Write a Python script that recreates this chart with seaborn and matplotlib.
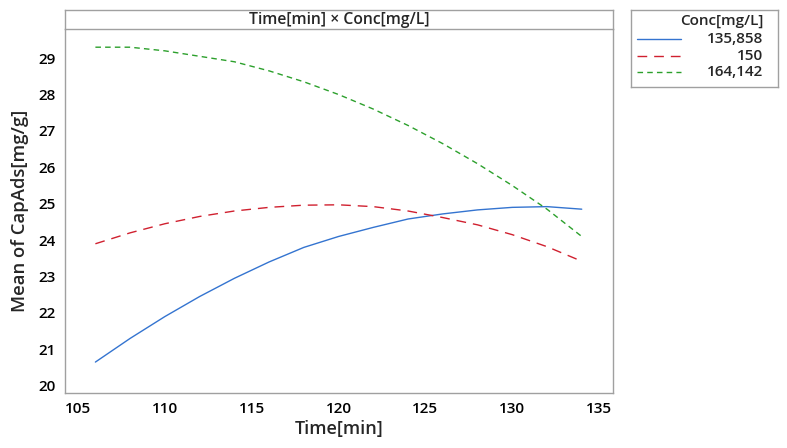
import numpy as np
import pandas as pd
import seaborn as sns
import matplotlib.pyplot as plt
from matplotlib.lines import Line2D

# values
Time = [106, 108, 110, 112, 114, 116, 118, 120, 122, 124, 126, 128, 130, 132, 134]
Conc = ['135,858', '150', '164,142']
CapAds135 = [20.65, 21.30, 21.90, 22.45, 22.95, 23.40, 23.80, 24.10, 24.35, 24.58, 24.72, 24.83, 24.90, 24.92, 24.85]
CapAds150 = [23.90, 24.20, 24.45, 24.65, 24.80, 24.90, 24.96, 24.97, 24.92, 24.80, 24.62, 24.42, 24.15, 23.82, 23.42]
CapAds164 = [29.30, 29.30, 29.20, 29.05, 28.90, 28.65, 28.35, 28.00, 27.60, 27.15, 26.65, 26.10, 25.50, 24.85, 24.10]
XTicks = [105, 110, 115, 120, 125, 130, 135]
YTicks = [20, 21, 22, 23, 24, 25, 26, 27, 28, 29]

rows = []
for c, vals in zip(Conc, [CapAds135, CapAds150, CapAds164]):
    for t, v in zip(Time, vals):
        rows.append({'Time': t, 'CapAds': v, 'Conc': c})
df = pd.DataFrame(rows)

colours = {'135,858': '#3474d0', '150': '#d0202f', '164,142': '#2ca02c'}
dashstyles = {'135,858': '', '150': (7, 5), '164,142': (4, 3)}

sns.set_style('white')
plt.rcParams['font.family'] = ['Open Sans', 'DejaVu Sans']
edge = '#a0a0a0'

fig = plt.figure(figsize=(7.87, 4.48), dpi=100)
ax = fig.add_axes([65/787, 1 - 393/448, 548/787, 364/448])
strip = fig.add_axes([65/787, 1 - 29/448, 548/787, 19/448])

sns.lineplot(data=df, x='Time', y='CapAds', hue='Conc', style='Conc',
             palette=colours, dashes=dashstyles, linewidth=1.0,
             legend=False, ax=ax)

ax.set_xlim(104.25, 135.8)
ax.set_ylim(19.8, 29.8)
ax.set_xticks(XTicks)
ax.set_yticks(YTicks)
ax.tick_params(axis='both', direction='out', length=3.5, width=0.8, color=edge,
               labelsize=11, labelcolor='black', pad=3)
for lab in ax.get_xticklabels() + ax.get_yticklabels():
    lab.set_fontweight('semibold')
for s in ax.spines.values():
    s.set_color(edge)
    s.set_linewidth(1.0)
ax.spines['top'].set_visible(False)
ax.set_xlabel('Time[min]', fontsize=13, fontweight='semibold', labelpad=3)
ax.set_ylabel('Mean of CapAds[mg/g]', fontsize=13.3, fontweight='semibold', labelpad=7)

strip.set_xticks([])
strip.set_yticks([])
for s in strip.spines.values():
    s.set_color(edge)
    s.set_linewidth(1.0)
strip.text(0.5, 0.45, 'Time[min] × Conc[mg/L]', ha='center', va='center',
           fontsize=11.3, fontweight='semibold', transform=strip.transAxes)

# legend box
lg = fig.add_axes([631/787, 1 - 87/448, 147/787, 77/448])
lg.set_xlim(0, 1)
lg.set_ylim(0, 1)
lg.set_xticks([])
lg.set_yticks([])
for s in lg.spines.values():
    s.set_color(edge)
    s.set_linewidth(1.0)
lg.text(0.90, 0.857, 'Conc[mg/L]', ha='right', va='center', fontsize=11,
        fontweight='semibold', transform=lg.transAxes)
for i, c in enumerate(Conc):
    yy = 0.623 - i * 0.214
    h = Line2D([0.04, 0.34], [yy, yy], color=colours[c], linewidth=1.0,
               transform=lg.transAxes)
    if dashstyles[c]:
        h.set_dashes(dashstyles[c])
    lg.add_line(h)
    lg.text(0.90, yy, c, ha='right', va='center', fontsize=11,
            fontweight='semibold', transform=lg.transAxes)

fig.savefig('out.png', dpi=100)
